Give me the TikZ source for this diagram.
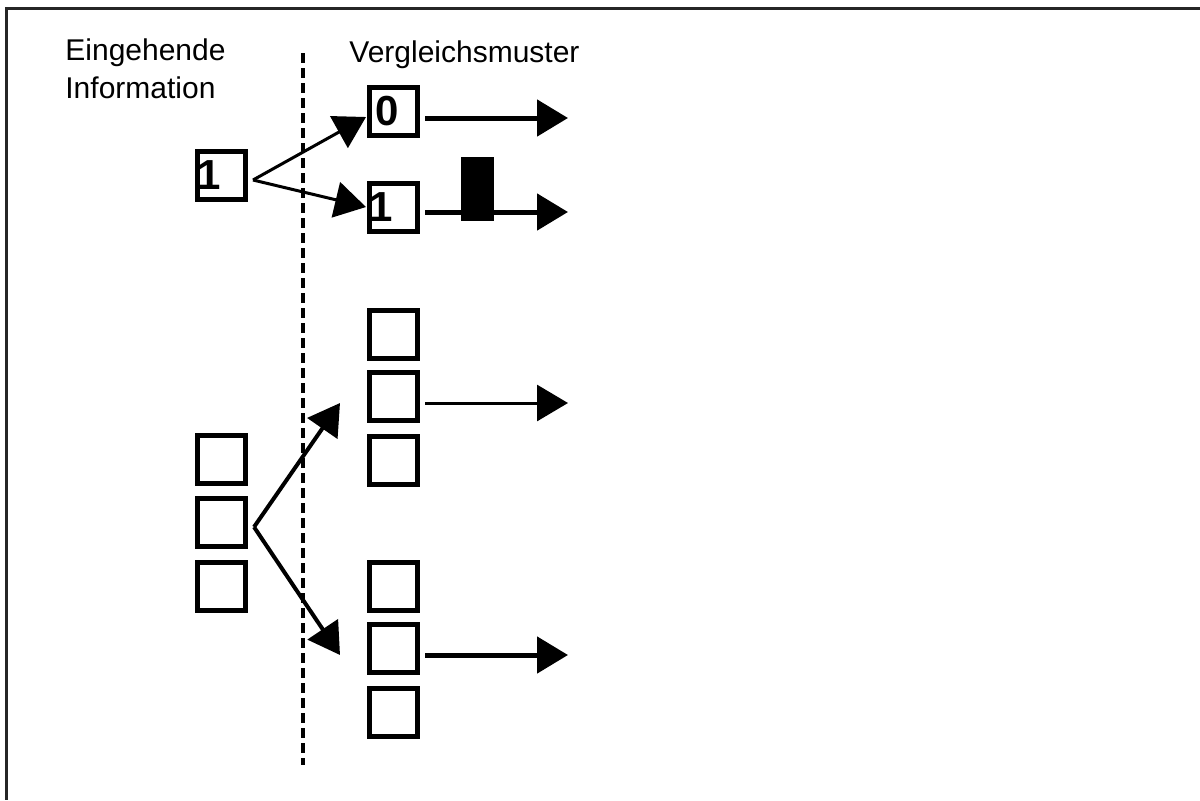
\documentclass[tikz,border=0pt]{standalone}
\usepackage{fontspec}
\setmainfont{Liberation Sans}
\usetikzlibrary{arrows.meta}
\begin{document}
\begin{tikzpicture}[x=0.5pt,y=-0.5pt,
  box/.style={draw, line width=2.5pt, minimum width=24pt, minimum height=24pt, inner sep=0pt, outer sep=0pt},
  dbox/.style={box, text width=24pt, align=left, font=\fontsize{21pt}{21pt}\selectfont\bfseries},
  lbl/.style={anchor=base west, inner sep=0pt, font=\fontsize{15pt}{18pt}\selectfont},
  arr/.style={-{Triangle[length=15.5pt,width=18pt]}},
  framestyle/.style={line width=1.5pt, draw=black!85},
  divider/.style={line width=2pt, dash pattern=on 5pt off 2.5pt},
  bar/.style={fill=black, inner sep=0pt, minimum width=16.5pt, minimum height=32pt},
]
\useasboundingbox (0,0) rectangle (1200,800);
% frame (top and left only)
\draw[framestyle] (1200,8) -- (6,8) -- (6,800);
% headings
\node[lbl] (t1) at (65,60) {Eingehende};
\node[lbl] (t2) at (65,98) {Information};
\node[lbl] (t3) at (349,62) {Vergleichsmuster};
% divider
\draw[divider] (303,53) -- (303,765);
% top section
\node[dbox] (l1) at (221.5,175.5) {1};
\node[dbox] (b0) at (393,111) {\hspace*{3pt}0};
\node[dbox] (b1) at (393,207) {1};
\coordinate (f1) at (253,180);
\draw[arr, line width=1.5pt] (f1) -- ([xshift=-1.5pt,yshift=-3pt]b0.west);
\draw[arr, line width=1.5pt] (f1) -- ([xshift=-1.5pt]b1.west);
\coordinate (e0) at (568,118);
\coordinate (e1) at (568,212);
\draw[arr, line width=2.5pt] ([xshift=4pt,yshift=-3.5pt]b0.east) -- (e0);
\draw[arr, line width=2.5pt] ([xshift=4pt,yshift=-2.5pt]b1.east) -- (e1);
\node[bar] (bk) at (477.5,189) {};
% lower section
\node[box] (la) at (221.5,459) {};
\node[box] (lb) at (221.5,522) {};
\node[box] (lc) at (221.5,586) {};
\node[box] (ra) at (393,334) {};
\node[box] (rb) at (393,396) {};
\node[box] (rc) at (393,460) {};
\node[box] (sa) at (393,586) {};
\node[box] (sb) at (393,648) {};
\node[box] (sc) at (393,712) {};
\coordinate (f2) at (254,527);
\draw[arr, line width=2pt] (f2) -- ([xshift=-14.5pt,yshift=-3.5pt]rb.west);
\draw[arr, line width=2pt] (f2) -- ([xshift=-14.5pt,yshift=-3.5pt]sb.west);
\coordinate (e2) at (568,403);
\coordinate (e3) at (568,655);
\draw[arr, line width=1.5pt] ([xshift=4pt,yshift=-3.5pt]rb.east) -- (e2);
\draw[arr, line width=2.5pt] ([xshift=4pt,yshift=-3.5pt]sb.east) -- (e3);
\end{tikzpicture}
\end{document}
